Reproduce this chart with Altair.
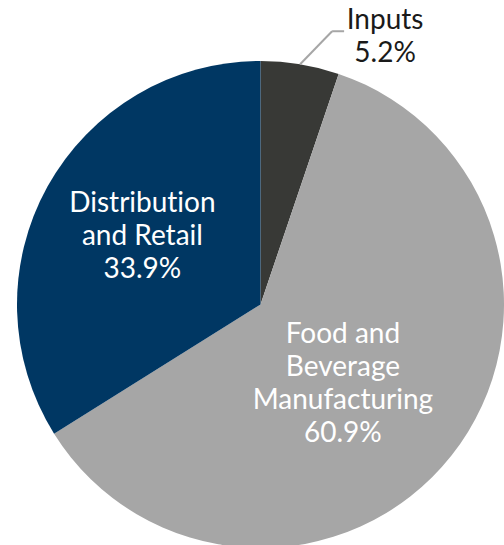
import altair as alt
import pandas as pd

categories = ["Inputs", "Food and Beverage Manufacturing", "Distribution and Retail"]
shares = [5.2, 60.9, 33.9]
label_lines = [["Inputs", "5.2%"], ["Food and", "Beverage", "Manufacturing", "60.9%"],
               ["Distribut\u200cion", "and Retail", "33.9%"]]
slice_order = [0, 1, 2]
colors = ["#383936", "#a6a6a6", "#003763"]

df = pd.DataFrame({"category": categories, "share": shares, "order": slice_order,
                   "label": label_lines})

CX, CY, R = 260.5, 304.5, 243.5
FONT = "Lato"
FS, LH = 28, 33

base = alt.Chart(df)

pie = base.mark_arc(radius=R, stroke=None).encode(
    theta=alt.Theta("share:Q", stack=True, scale=alt.Scale(domain=[0, 100])),
    order=alt.Order("order:Q"),
    color=alt.Color("category:N", scale=alt.Scale(domain=categories, range=colors), legend=None),
    x=alt.value(CX), y=alt.value(CY),
)

mid_base = base.transform_window(
    cum="sum(share)", sort=[alt.SortField("order")], frame=[None, 0]
).transform_calculate(mid="datum.cum - datum.share / 2")


def label_layer(cat, nlines, radius, dx, dy, color):
    return mid_base.transform_filter(alt.datum.category == cat).mark_text(
        radius=radius, dx=dx, dy=dy - (nlines - 1) * LH / 2, font=FONT, fontSize=FS,
        lineHeight=LH, align="center", baseline="middle", color=color,
    ).encode(
        theta=alt.Theta("mid:Q", scale=alt.Scale(domain=[0, 100])),
        text="label",
        x=alt.value(CX), y=alt.value(CY),
    )


t_inputs = label_layer("Inputs", 2, R, 85, -27, "#1a1a1a")
t_food = label_layer("Food and Beverage Manufacturing", 4, 114, -7, 9, "white")
t_dist = label_layer("Distribution and Retail", 3, 135, 0, -2, "white")

leader = mid_base.transform_filter(alt.datum.category == "Inputs").transform_calculate(
    x0=f"{CX} + {R} * sin(datum.mid / 100 * 2 * PI)",
    y0=f"{CY} - {R} * cos(datum.mid / 100 * 2 * PI)",
).transform_calculate(
    x1="datum.x0 + 32", y1="datum.y0 - 33"
).transform_calculate(x2="datum.x1 + 12")

lead1 = leader.mark_rule(color="#a6a6a6", strokeWidth=2).encode(
    x=alt.X("x0:Q", scale=None), y=alt.Y("y0:Q", scale=None),
    x2="x1:Q", y2="y1:Q",
)
lead2 = leader.mark_rule(color="#a6a6a6", strokeWidth=2).encode(
    x=alt.X("x1:Q", scale=None), y=alt.Y("y1:Q", scale=None),
    x2="x2:Q", y2="y1:Q",
)

chart = alt.layer(pie, lead1, lead2, t_inputs, t_food, t_dist).properties(
    width=504, height=545, padding=0, autosize=alt.AutoSizeParams(type="none"),
    background="white",
).configure_view(stroke=None)

chart.save("out.html", embed_options={"renderer": "svg", "actions": False})
